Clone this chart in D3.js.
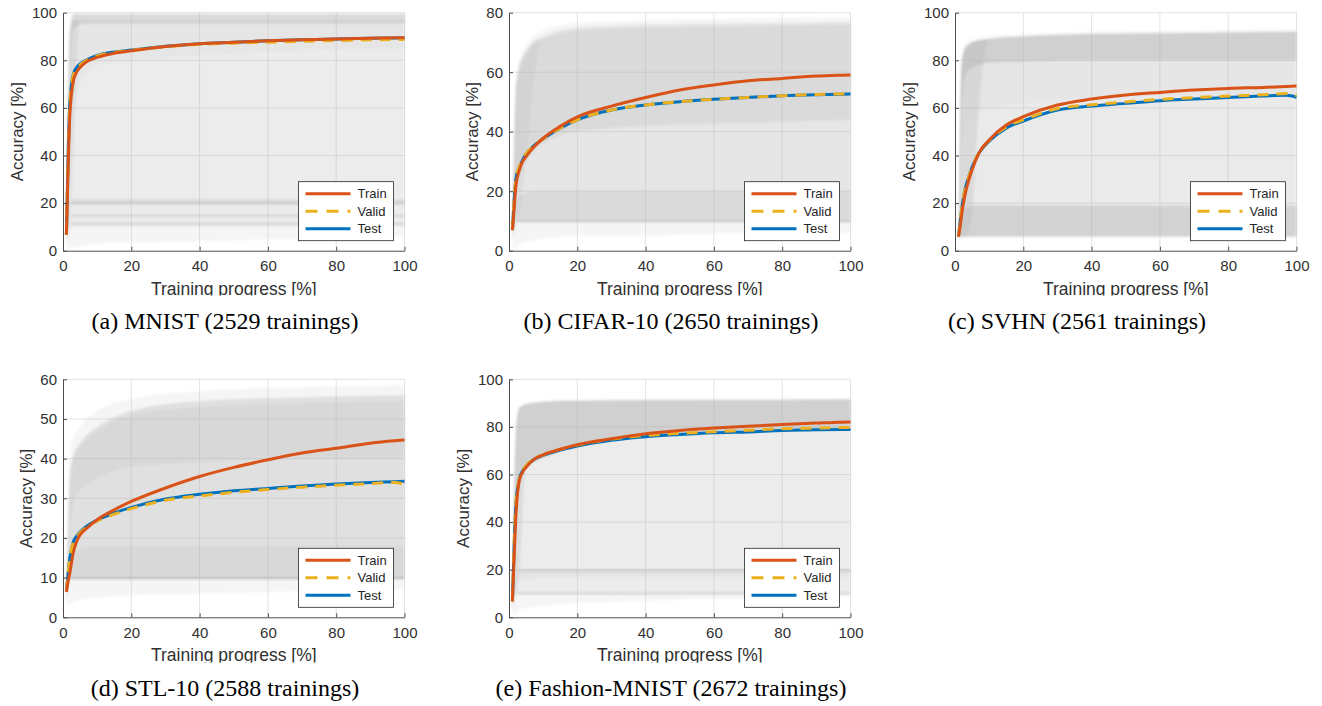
<!DOCTYPE html>
<html>
<head>
<meta charset="utf-8">
<script src="https://cdn.jsdelivr.net/npm/d3@7"></script>
<style>
  body { margin: 0; background: #fff; }
  svg { display: block; }
</style>
</head>
<body>
<div id="container"></div>
<script>
// training progress [%] at which the mean curves were read
const progress = [1, 1.5, 2, 3, 4, 5, 7, 10, 15, 20, 30, 40, 50, 60, 70, 80, 90, 97, 100];

const mnistTrain = [6.7, 35, 57, 71, 75, 77, 79.5, 81.2, 83, 84, 85.8, 87, 87.6, 88.2, 88.6, 89, 89.3, 89.5, 89.5];
const mnistValid = [6.7, 38, 61, 73.5, 76.5, 78, 80, 81.8, 83.3, 84.2, 85.7, 86.7, 87.2, 87.6, 88, 88.3, 88.6, 88.7, 88.7];
const mnistTest = [6.7, 40, 62, 74, 77, 78.5, 80.2, 82, 83.5, 84.3, 85.9, 87, 87.6, 88.2, 88.6, 89, 89.3, 89.4, 89.4];

const cifarTrain = [6.9, 14, 21.5, 27, 30, 31.6, 34.5, 37.8, 41.8, 45, 48.6, 51.5, 54, 55.7, 57.1, 57.9, 58.7, 59, 59.1];
const cifarValid = [6.9, 17, 24, 28.2, 30.7, 32.6, 35, 37.6, 41.2, 44, 47.3, 49, 50.1, 50.9, 51.5, 52.1, 52.5, 52.7, 52.8];
const cifarTest = [6.9, 17, 24, 28, 30.5, 32.5, 35, 37.6, 41.2, 44, 47.3, 49, 50.1, 50.9, 51.5, 52.1, 52.4, 52.6, 52.7];

const svhnTrain = [5.9, 10, 15.7, 24, 29.5, 34, 41, 46.5, 52.8, 56.3, 61.2, 63.7, 65.4, 66.5, 67.5, 68.2, 68.6, 69, 69.2];
const svhnValid = [5.9, 12, 18, 26, 31, 35, 41.2, 46.3, 52, 55, 59.7, 61.3, 62.5, 63.6, 64.3, 65, 65.5, 66, 65.2];
const svhnTest = [5.9, 12, 18, 26, 31, 35, 41, 46, 51.5, 54.5, 59.1, 60.8, 61.9, 63, 63.7, 64.4, 65, 65.3, 64.5];

const stlTrain = [6.4, 9, 11.2, 16.2, 19.1, 20.8, 22.5, 24.6, 27.1, 29.2, 32.6, 35.5, 37.8, 39.7, 41.4, 42.6, 43.9, 44.5, 44.7];
const stlValid = [6.6, 11, 15, 18.8, 20.3, 21.3, 22.8, 24.3, 26, 27.4, 29.5, 30.6, 31.5, 32.2, 32.8, 33.3, 33.7, 34, 33.5];
const stlTest = [6.6, 11, 15, 19, 20.5, 21.5, 23, 24.5, 26.3, 27.7, 29.8, 31, 31.9, 32.5, 33.1, 33.6, 34, 34.2, 34.3];

const fashionTrain = [6.7, 25, 42, 57.3, 61, 63, 66, 68.3, 70.6, 72.5, 75, 77.1, 78.5, 79.5, 80.3, 81, 81.6, 82, 82.1];
const fashionValid = [6.7, 30, 47, 58, 61.6, 63.7, 66.3, 68.3, 70.6, 72.4, 74.9, 76.4, 77.3, 78, 78.6, 79.2, 79.5, 79.7, 79.7];
const fashionTest = [6.7, 30, 47, 58, 61.5, 63.5, 66, 68, 70.3, 72, 74.4, 75.9, 76.8, 77.5, 77.9, 78.5, 78.8, 78.9, 78.9];

// spread of the individual trainings: [lower, upper, share] read at bandX
const bandX = [1, 2, 3, 5, 7, 10, 20, 40, 70, 100];

const mnistSpread = [
  [[0.5, 1, 1.5, 2, 2.5, 3, 3.5, 4, 5, 6], [12, 92, 99.6, 99.6, 99.6, 99.6, 99.6, 99.6, 99.6, 99.6], 0.13],
  [[3, 9, 9.5, 10, 10, 10, 10, 10, 10, 10], [10, 88, 97, 97, 97, 97, 97, 97, 97, 97], 0.12],
  [[6, 30, 55, 70, 75, 78, 80, 82, 84, 85], [9, 88, 97, 97, 97, 97, 97, 97, 97, 97], 0.1],
  [[8, 75, 93, 95, 95.5, 95.5, 95.5, 95.5, 95.5, 95.5], [10, 92, 99.6, 99.6, 99.6, 99.6, 99.6, 99.6, 99.6, 99.6], 0.38],
  [[3, 10, 40, 97, 97, 97, 97, 97, 97, 97], [10, 90, 97, 97, 97, 97, 97, 97, 97, 97], 0.22]
];
const mnistFlat = [21, 19.8, 14.7, 11.3];

const cifarSpread = [
  [[0.5, 1, 2, 3, 3.5, 4, 5, 5, 6, 6], [10, 58, 64, 69, 72, 74, 76.5, 77.5, 78, 78.5], 0.13],
  [[3, 9.5, 9.5, 9.5, 9.5, 9.5, 9.5, 9.5, 9.5, 9.5], [9, 55, 62, 67, 70, 72, 75, 76, 76.5, 77], 0.22],
  [[6, 22, 25, 30, 33, 36, 40, 42, 43, 44], [8, 52, 60, 66, 69, 71, 74, 75, 75.5, 76], 0.22],
  [[5, 10, 10, 10, 10, 10, 10, 10, 10, 10], [7, 16, 18, 19.5, 20, 20, 20, 20, 20, 20], 0.22],
  [[3, 9, 12, 30, 55, 72, 75, 76, 76.5, 77], [9, 55, 62, 67, 70, 72, 75, 76, 76.5, 77], 0.16]
];
const cifarFlat = [10];

const svhnSpread = [
  [[5, 5, 5.5, 5.5, 5.5, 5.5, 5.5, 5.5, 5.5, 5.5], [9, 82, 87, 88.5, 89.3, 90, 91, 92, 92.5, 93], 0.13],
  [[5.5, 6, 6, 6, 6, 6, 6, 6, 6, 6], [7, 79, 85, 87.5, 88.3, 89, 90, 91, 91.5, 92], 0.15],
  [[6, 40, 50, 55, 58, 60, 62, 64, 65, 65], [7, 79, 85, 87.5, 88.3, 89, 90, 91, 91.5, 92], 0.08],
  [[6, 60, 74, 77, 78, 79, 79.5, 80, 80, 80], [7, 79, 85, 87.5, 88.3, 89, 90, 91, 91.5, 92], 0.4],
  [[5.5, 6, 6, 6, 6, 6, 6, 6, 6, 6], [6.5, 15, 18, 19, 19, 19, 19, 19, 19, 19], 0.42],
  [[5.5, 6, 6, 15, 60, 89, 90, 91, 91.5, 92], [7, 79, 85, 87.5, 88.3, 89, 90, 91, 91.5, 92], 0.28]
];
const svhnFlat = [];

const stlSpread = [
  [[3, 3.5, 4, 4.5, 4.8, 5, 5.5, 6, 6.5, 7], [9, 40, 45, 48, 50, 52, 55, 57, 58, 58.5], 0.13],
  [[4, 9.5, 9.5, 9.5, 9.5, 9.5, 9.5, 9.5, 9.5, 9.5], [8, 36, 41, 44, 46, 48, 52, 54.5, 55.5, 56], 0.3],
  [[6, 22, 28, 32, 33.5, 35, 38, 39, 40, 40], [8, 34, 39, 43, 45, 47, 51, 53, 54, 54.5], 0.16],
  [[5, 9.5, 9.5, 9.5, 9.5, 9.5, 9.5, 9.5, 9.5, 9.5], [7, 14, 16, 17, 17.5, 18, 18, 18, 18, 18], 0.16]
];
const stlFlat = [10];

const fashionSpread = [
  [[1, 2, 3, 4, 4.5, 5, 6, 7, 8, 9], [10, 80, 88.5, 90, 90.5, 91, 91.5, 91.7, 91.8, 92], 0.13],
  [[3, 9.5, 9.5, 10, 10, 10, 10, 10, 10, 10], [9, 78, 88, 89.5, 90, 90.5, 91, 91.2, 91.3, 91.5], 0.12],
  [[6, 45, 58, 63, 65, 67, 72, 76, 78, 79], [9, 78, 88, 89.5, 90, 90.5, 91, 91.2, 91.3, 91.5], 0.45],
  [[5, 14, 15, 16, 16.2, 16.5, 17, 17, 17, 17], [7, 18, 19.5, 20, 20, 20, 20, 20, 20, 20], 0.12],
  [[3, 10, 20, 63, 65, 67, 72, 76, 78, 79], [9, 45, 58, 63, 65, 67, 72, 76, 78, 79], 0.25]
];
const fashionFlat = [19.5, 10];

const xTicks = [0, 20, 40, 60, 80, 100];
const yTicks100 = [0, 20, 40, 60, 80, 100];
const yTicks80 = [0, 20, 40, 60, 80];
const yTicks60 = [0, 10, 20, 30, 40, 50, 60];

const seriesNames = ["Train", "Valid", "Test"];
const captions = [
  "(a) MNIST (2529 trainings)",
  "(b) CIFAR-10 (2650 trainings)",
  "(c) SVHN (2561 trainings)",
  "(d) STL-10 (2588 trainings)",
  "(e) Fashion-MNIST (2672 trainings)"
];

const colors = { Train: "#D95319", Valid: "#EDB120", Test: "#0072BD" };
const sans = "'Liberation Sans', Arial, Helvetica, sans-serif";
const serif = "'Liberation Serif', 'Times New Roman', serif";

const setAttrs = (el, attrs) =>
  Object.entries(attrs).reduce((acc, [key, val]) => acc.attr(key, val), el);

const svg = d3.select("#container").append("svg");
setAttrs(svg, { width: 1322, height: 706 });

const defs = svg.append("defs");
// each row of the figure is cut just under the x-axis label
[[0, 295.5], [340, 662.5]].forEach(([y0, y1], i) => {
  const r = defs.append("clipPath").attr("id", `row${i}`).append("rect");
  setAttrs(r, { x: 0, y: y0, width: 1322, height: y1 - y0 });
});
// soft edges for the cloud of training curves
const blur = defs.append("filter").attr("id", "soft");
setAttrs(blur, { x: "-5%", y: "-5%", width: "110%", height: "110%" });
blur.append("feGaussianBlur").attr("stdDeviation", 1.3);

const panels = [
  { left: 63, top: 12.7, row: 0, ymax: 100, yTicks: yTicks100, capX: 225,
    series: [mnistTrain, mnistValid, mnistTest], spread: mnistSpread, flat: mnistFlat },
  { left: 509, top: 12.7, row: 0, ymax: 80, yTicks: yTicks80, capX: 671,
    series: [cifarTrain, cifarValid, cifarTest], spread: cifarSpread, flat: cifarFlat },
  { left: 955, top: 12.7, row: 0, ymax: 100, yTicks: yTicks100, capX: 1077,
    series: [svhnTrain, svhnValid, svhnTest], spread: svhnSpread, flat: svhnFlat },
  { left: 63, top: 379.3, row: 1, ymax: 60, yTicks: yTicks60, capX: 225,
    series: [stlTrain, stlValid, stlTest], spread: stlSpread, flat: stlFlat },
  { left: 509, top: 379.3, row: 1, ymax: 100, yTicks: yTicks100, capX: 671,
    series: [fashionTrain, fashionValid, fashionTest], spread: fashionSpread, flat: fashionFlat }
];

const pw = 341.5;
const ph = 238;

panels.forEach((p, idx) => {
  const bottom = p.top + ph;
  const x = d3.scaleLinear([0, 100], [p.left, p.left + pw]);
  const y = d3.scaleLinear([0, p.ymax], [bottom, p.top]);
  const g = svg.append("g").attr("clip-path", `url(#row${p.row})`);

  // grid
  const grid = g.append("g").attr("stroke", "#e3e3e3").attr("stroke-width", 1);
  p.yTicks.filter((t) => t > 0).forEach((t) => {
    setAttrs(grid.append("line"), { x1: x(0), x2: x(100), y1: y(t), y2: y(t) });
  });
  xTicks.filter((t) => t > 0).forEach((t) => {
    setAttrs(grid.append("line"), { x1: x(t), x2: x(t), y1: y(0), y2: y(p.ymax) });
  });

  // spread of all trainings
  const area = d3.area()
    .x((d) => x(d[0]))
    .y0((d) => y(d[1]))
    .y1((d) => y(d[2]))
    .curve(d3.curveMonotoneX);
  const cloud = g.append("g").attr("filter", "url(#soft)");
  p.spread.forEach(([lo, hi, share]) => {
    const pts = bandX.map((v, i) => [v, lo[i], hi[i]]);
    setAttrs(cloud.append("path"), { d: area(pts), fill: "#b0b0b0", "fill-opacity": share });
  });
  p.flat.forEach((v) => {
    setAttrs(cloud.append("line"), {
      x1: x(2.5), x2: x(100), y1: y(v), y2: y(v),
      stroke: "#b0b0b0", "stroke-opacity": 0.45, "stroke-width": 2
    });
  });

  // mean curves: test, valid (dashed on top), train
  const line = d3.line()
    .x((d) => x(d[0]))
    .y((d) => y(d[1]))
    .curve(d3.curveMonotoneX);
  [2, 1, 0].forEach((k) => {
    const name = seriesNames[k];
    const pts = progress.map((v, i) => [v, p.series[k][i]]);
    setAttrs(g.append("path"), {
      d: line(pts), fill: "none", stroke: colors[name], "stroke-width": 3,
      "stroke-dasharray": name === "Valid" ? "11,8" : null,
      "stroke-linejoin": "round"
    });
  });

  // axes
  const xAxis = d3.axisBottom(x).tickValues(xTicks).tickSizeInner(-4).tickSizeOuter(0).tickPadding(10);
  const yAxis = d3.axisLeft(y).tickValues(p.yTicks).tickSizeInner(-4).tickSizeOuter(0).tickPadding(6);
  [[xAxis, `translate(0,${bottom})`], [yAxis, `translate(${p.left},0)`]].forEach(([ax, tr]) => {
    const a = g.append("g").attr("transform", tr).call(ax);
    a.selectAll("path.domain").attr("stroke", "#4d4d4d").attr("stroke-width", 1);
    a.selectAll(".tick line").attr("stroke", "#4d4d4d");
    a.selectAll("text").attr("font-family", sans).attr("font-size", 15).attr("fill", "#303030");
  });

  // labels
  setAttrs(g.append("text"), {
    x: p.left + pw / 2, y: bottom + 44, "text-anchor": "middle",
    "font-family": sans, "font-size": 17.5, fill: "#303030"
  }).text("Training progress [%]");
  const yOff = p.ymax >= 100 ? 46 : 37;
  setAttrs(g.append("text"), {
    transform: `translate(${p.left - yOff},${(p.top + bottom) / 2}) rotate(-90)`,
    dy: "0.35em", "text-anchor": "middle",
    "font-family": sans, "font-size": 17, fill: "#303030"
  }).text("Accuracy [%]");

  // legend
  const lg = g.append("g").attr("transform", `translate(${p.left + pw - 106},${bottom - 69})`);
  setAttrs(lg.append("rect"), { x: 0, y: 0, width: 95, height: 59, fill: "#fff", stroke: "#262626", "stroke-width": 0.8 });
  seriesNames.forEach((name, i) => {
    const ly = 12 + i * 17.5;
    setAttrs(lg.append("line"), {
      x1: 7, x2: 52, y1: ly, y2: ly, stroke: colors[name], "stroke-width": 3,
      "stroke-dasharray": name === "Valid" ? "12,9" : null
    });
    setAttrs(lg.append("text"), {
      x: 59, y: ly, dy: "0.35em", "font-family": sans, "font-size": 13, fill: "#262626"
    }).text(name);
  });

  // caption
  setAttrs(svg.append("text"), {
    x: p.capX, y: p.row === 0 ? 329 : 696, "text-anchor": "middle",
    "font-family": serif, "font-size": 24, fill: "#000"
  }).text(captions[idx]);
});
</script>
</body>
</html>
